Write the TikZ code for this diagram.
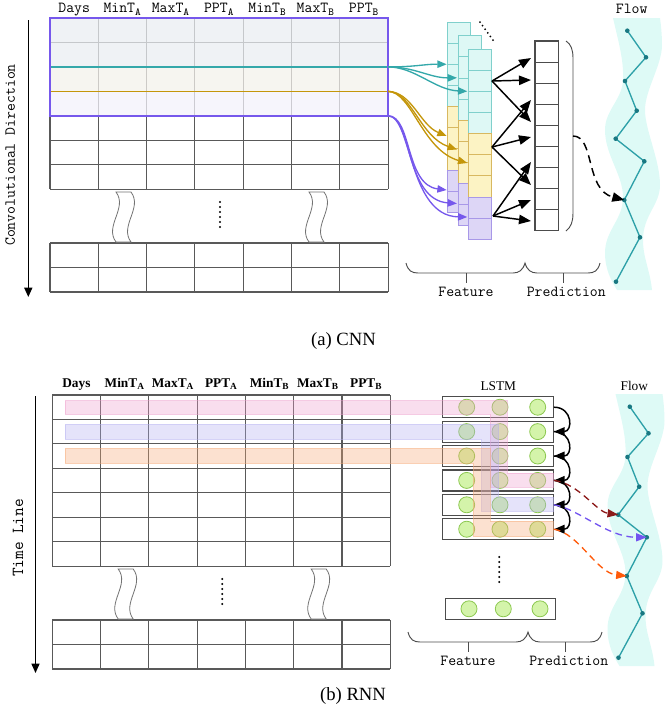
\documentclass[tikz,border=0pt]{standalone}
\usepackage{fontspec}
\setmainfont{Liberation Serif}
\usetikzlibrary{arrows.meta}

\definecolor{cnnteal}{RGB}{52,168,170}
\definecolor{cnngold}{RGB}{196,150,10}
\definecolor{cnnpurp}{RGB}{118,88,236}
\definecolor{winblue}{RGB}{234,238,242}
\definecolor{winbeige}{RGB}{243,241,235}
\definecolor{winlav}{RGB}{243,242,251}
\definecolor{mapteal}{RGB}{222,248,245}
\definecolor{mapgold}{RGB}{252,243,196}
\definecolor{mappurp}{RGB}{221,214,246}
\definecolor{edgeteal}{RGB}{128,208,204}
\definecolor{edgegold}{RGB}{216,184,96}
\definecolor{edgepurp}{RGB}{168,152,232}
\definecolor{bandcyan}{RGB}{222,250,246}
\definecolor{flowteal}{RGB}{45,160,168}
\definecolor{flowdot}{RGB}{25,120,130}
\definecolor{lstmgreen}{RGB}{212,244,170}
\definecolor{lstmedge}{RGB}{140,200,80}
\definecolor{barpink}{RGB}{238,160,205}
\definecolor{barlav}{RGB}{180,175,240}
\definecolor{barorange}{RGB}{246,170,120}
\definecolor{arrred}{RGB}{140,26,26}
\definecolor{arrpurp}{RGB}{115,85,240}
\definecolor{arrorange}{RGB}{255,90,10}

\tikzset{every picture/.style={line width=0.75pt}}
\tikzset{
  cell/.style={draw=black!65, line width=0.8pt},
  breaksym/.style={draw=black!55, fill=white, line width=0.6pt},
  mono/.style={font=\ttfamily\fontsize{11.5}{13}\selectfont, inner sep=0.75pt},
  rom/.style={font=\fontsize{10}{12}\selectfont, inner sep=0.75pt},
  headrom/.style={font=\bfseries\fontsize{10}{12}\selectfont, inner sep=0.75pt},
  captext/.style={font=\fontsize{14}{16}\selectfont, inner sep=0.75pt},
  fan/.style={line width=1pt, -{Triangle[length=7pt,width=5.5pt]}},
  featarrow/.style={draw=black, line width=1.1pt, -{Triangle[length=9pt,width=7pt]}},
  predcell/.style={draw=black!70, line width=0.8pt},
  bracket/.style={draw=black!70, line width=0.7pt},
  flowdash/.style={draw=black, line width=1.1pt, dash pattern=on 6pt off 4pt, -{Triangle[length=9pt,width=7pt]}},
  lstmbox/.style={draw=black!70, line width=0.9pt, minimum width=83pt, minimum height=15.75pt, inner sep=0pt},
  lstmcell/.style={circle, draw=lstmedge, fill=lstmgreen, minimum size=12pt, inner sep=0pt, line width=0.6pt},
  recur/.style={draw=black, line width=1.1pt, -{Triangle[length=8pt,width=6.5pt]}},
  rnndash/.style={line width=1pt, dash pattern=on 5pt off 3.5pt, -{Triangle[length=8pt,width=6pt]}},
  winbar/.style={line width=0.6pt, fill opacity=0.35, draw opacity=0.5},
  downarrow/.style={draw=black, line width=1.1pt, -{Triangle[length=7pt,width=6pt]}}
}

% table with the break between the two blocks
\newcommand{\datatable}{%
  \foreach \i in {0,...,7} \draw[cell] ({50+48.3*\i},18) -- ({50+48.3*\i},189.2);
  \foreach \j in {0,...,7} \draw[cell] (50,{18+24.45*\j}) -- (388.1,{18+24.45*\j});
  \foreach \i in {0,...,7} \draw[cell] ({50+48.3*\i},243) -- ({50+48.3*\i},292);
  \foreach \j in {0,1,2} \draw[cell] (50,{243+24.5*\j}) -- (388.1,{243+24.5*\j});
  \draw[breaksym] (116,192) .. controls (128,208) and (104,226) .. (116,242) -- (131,242) .. controls (119,226) and (143,208) .. (131,192) -- cycle;
  \draw[breaksym] (309,192) .. controls (321,208) and (297,226) .. (309,242) -- (324,242) .. controls (312,226) and (336,208) .. (324,192) -- cycle;
  \foreach \k in {0,...,5} \fill (220,{202+5*\k}) circle[radius=1.1];
}

% wavy band with the flow series, #1 = prefix of the point names
\newcommand{\flowband}[1]{%
  \fill[bandcyan] (613,18) .. controls (618,40) and (624,60) .. (623,80) .. controls (622,100) and (605,110) .. (605,130) .. controls (605,155) and (623,175) .. (623,197) .. controls (623,220) and (605,230) .. (605,253) .. controls (605,270) and (612,282) .. (617,290) -- (652,290) .. controls (650,270) and (643,258) .. (643,240) .. controls (643,215) and (660,205) .. (660,185) .. controls (660,160) and (645,130) .. (645,110) .. controls (645,90) and (662,65) .. (662,45) .. controls (662,35) and (661,25) .. (660,18) -- cycle;
  \foreach \px/\py [count=\n] in {627.3/30.7,646/57.3,625/81,636.7/110.7,615.7/138.7,644.3/161.3,624.3/200,640/237.3,616/281.7}
    \coordinate (#1\n) at (\px,\py);
  \draw[flowteal, line width=1pt] (#11) \foreach \n in {2,...,9} { -- (#1\n) };
  \foreach \n in {1,...,9} \fill[flowdot] (#1\n) circle[radius=2.3];
}

\begin{document}
\begin{tikzpicture}[x=0.75pt,y=0.75pt,yscale=-1,xscale=1]
\useasboundingbox (0,0) rectangle (665,708);

%%%%%%%%%%%%%%%% (a) CNN
% Table
\datatable
% Window rows
\fill[winblue, opacity=0.75] (50,18) rectangle (388.1,66.9);
\fill[winbeige, opacity=0.75] (50,66.9) rectangle (388.1,91.35);
\fill[winlav, opacity=0.75] (50,91.35) rectangle (388.1,115.8);
\coordinate (tealsrc) at (388.1,66.9);
\coordinate (goldsrc) at (388.1,91.35);
\coordinate (purpsrc) at (388.1,115.8);
\draw[cnnteal, line width=1pt] (50,66.9) -- (tealsrc);
\draw[cnngold, line width=1.2pt] (50,91.35) -- (goldsrc);
\draw[cnnpurp, line width=1.3pt] (50,18) rectangle (purpsrc);

% Header
\foreach \lab [count=\n from 0] in {Days,MinT\textsubscript{A},MaxT\textsubscript{A},PPT\textsubscript{A},MinT\textsubscript{B},MaxT\textsubscript{B},PPT\textsubscript{B}}
  \node[mono, anchor=base] (cnnhd\n) at ({74.2+48.3*\n},12.7) {\lab};

% Direction arrow
\coordinate (cdtop) at (28.3,20);
\coordinate (cdbot) at (28.3,297);
\draw[downarrow] (cdtop) -- (cdbot);
\node[mono, anchor=base, rotate=90] (cdlabel) at (15,155) {Convolutional Direction};

% Feature maps
\foreach \k in {0,1,2}{
  \pgfmathsetmacro{\mx}{447.7+10.3*\k}
  \pgfmathsetmacro{\my}{22.3+13.5*\k}
  \draw[draw=edgeteal, fill=mapteal] (\mx,\my) rectangle ++(23,84.4);
  \draw[draw=edgegold, fill=mapgold] (\mx,{\my+84.4}) rectangle ++(23,63.3);
  \draw[draw=edgepurp, fill=mappurp] (\mx,{\my+147.7}) rectangle ++(23,42.2);
  \foreach \c in {1,2,3} \draw[edgeteal] (\mx,{\my+21.1*\c}) -- ++(23,0);
  \foreach \c in {5,6} \draw[edgegold] (\mx,{\my+21.1*\c}) -- ++(23,0);
  \draw[edgepurp] (\mx,{\my+21.1*8}) -- ++(23,0);
  \coordinate (mapt\k) at ({\mx-1},{\my+42});
  \coordinate (mapg\k) at ({\mx-1},{\my+113.7});
  \coordinate (mapp\k) at ({\mx-1},{\my+167.7});
}
\foreach \k in {0,...,5} \fill ({480+2.6*\k},{22+3.6*\k}) circle[radius=1];

% Window to feature maps
\draw[fan, cnnteal] (tealsrc) .. controls (415,67) and (425,64) .. (mapt0);
\draw[fan, cnnteal] (tealsrc) .. controls (415,67) and (430,78) .. (mapt1);
\draw[fan, cnnteal] (tealsrc) .. controls (415,67) and (435,90) .. (mapt2);
\draw[fan, cnngold] (goldsrc) .. controls (412,92) and (420,125) .. (mapg0);
\draw[fan, cnngold] (goldsrc) .. controls (412,92) and (420,137) .. (mapg1);
\draw[fan, cnngold] (goldsrc) .. controls (412,92) and (422,150) .. (mapg2);
\draw[fan, cnnpurp] (purpsrc) .. controls (412,116) and (405,185) .. (mapp0);
\draw[fan, cnnpurp] (purpsrc) .. controls (412,116) and (405,200) .. (mapp1);
\draw[fan, cnnpurp] (purpsrc) .. controls (412,116) and (408,216) .. (mapp2);

% Prediction column
\foreach \c in {0,...,8} \draw[predcell] (535,{41+21.1*\c}) rectangle ++(23.3,21.1);
\coordinate (fo1) at (492,81);
\coordinate (fo2) at (492,147);
\coordinate (fo3) at (493,216);
\foreach \py [count=\n] in {58,80,122,100,137,185,162,200,221}
  \coordinate (pt\n) at (531,\py);
\foreach \a/\b in {fo1/pt1,fo1/pt2,fo1/pt3,fo2/pt4,fo2/pt5,fo2/pt6,fo3/pt7,fo3/pt8,fo3/pt9}
  \draw[featarrow] (\a) -- (\b);
\draw[bracket] (566,41) .. controls (571,44) and (573,50) .. (573,58) -- (573,213) .. controls (573,222) and (571,227) .. (566,231);
\coordinate (brk) at (573,136);

% Flow
\flowband{fa}
\node[mono, anchor=base] (flowa) at (631.7,13.3) {Flow};
\draw[flowdash] (brk) .. controls (595,136) and (585,190) .. (fa7);

% Braces
\draw[bracket] (406,263) .. controls (408,271) and (412,273) .. (418,273) -- (513,273) .. controls (519,273) and (523,270) .. (525,263) .. controls (527,270) and (531,273) .. (537,273) -- (588,273) .. controls (594,273) and (598,271) .. (600,263);
\draw[bracket] (466,273) -- (466,283);
\draw[bracket] (563,273) -- (563,283);
\node[mono, anchor=base] (feata) at (466,296.7) {Feature};
\node[mono, anchor=base] (preda) at (566.3,296.7) {Prediction};

\node[captext] (capa) at (343.5,341.5) {(a) CNN};

%%%%%%%%%%%%%%%% (b) RNN
% Table
\begin{scope}[shift={(2.2,377)}]
\datatable
\end{scope}

% Header
\foreach \lab [count=\n from 0] in {Days,MinT\textsubscript{A},MaxT\textsubscript{A},PPT\textsubscript{A},MinT\textsubscript{B},MaxT\textsubscript{B},PPT\textsubscript{B}}
  \node[headrom, anchor=base] (rnnhd\n) at ({76.4+48.3*\n},387.7) {\lab};

% Time arrow
\coordinate (tltop) at (35.5,396);
\coordinate (tlbot) at (35.5,673);
\draw[downarrow] (tltop) -- (tlbot);
\node[mono, font=\ttfamily\fontsize{12.6}{14}\selectfont, anchor=base, rotate=90] (tllabel) at (23,538) {Time Line};

% LSTM units
\node[rom, anchor=base] (lstmlab) at (498.3,390) {LSTM};
\foreach \i in {1,...,6}{
  \node[lstmbox] (lstm\i) at (498,{407.2+24.4*(\i-1)}) {};
  \node[lstmcell] (lc\i-1) at (466.7,{407.2+24.4*(\i-1)}) {};
  \node[lstmcell] (lc\i-2) at (500,{407.2+24.4*(\i-1)}) {};
  \node[lstmcell] (lc\i-3) at (537.7,{407.2+24.4*(\i-1)}) {};
}
\node[lstmbox] (lstm7) at (500.5,608.8) {};
\node[lstmcell] (lc7-1) at (469,608.8) {};
\node[lstmcell] (lc7-2) at (503.3,608.8) {};
\node[lstmcell] (lc7-3) at (540,608.8) {};
\foreach \k in {0,...,5} \fill (499.3,{557+5*\k}) circle[radius=1.1];

% Input windows
\draw[winbar, draw=barpink, fill=barpink] (65,400.7) -- (507,400.7) -- (507,473) -- (553,473) -- (553,487) -- (490,487) -- (490,414.3) -- (65,414.3) -- cycle;
\draw[winbar, draw=barlav, fill=barlav] (65,424.3) -- (498.3,424.3) -- (498.3,497.3) -- (553,497.3) -- (553,511) -- (481.7,511) -- (481.7,439.3) -- (65,439.3) -- cycle;
\draw[winbar, draw=barorange, fill=barorange] (65,448.3) -- (490,448.3) -- (490,521) -- (553,521) -- (553,536.7) -- (473.3,536.7) -- (473.3,463.3) -- (65,463.3) -- cycle;

% Recurrence
\foreach \i [evaluate=\i as \j using int(\i+1)] in {1,...,5}
  \draw[recur] (lstm\i.east) to[out=0,in=0,looseness=2] (lstm\j.east);

% Flow
\begin{scope}[shift={(2.5,376)}]
\flowband{fb}
\end{scope}
\node[rom, anchor=base] (flowb) at (634.3,390) {Flow};
\draw[rnndash, draw=arrred] (lstm4.east) .. controls +(25,3) and +(-22,-3) .. (fb5);
\draw[rnndash, draw=arrpurp] (lstm5.east) .. controls +(25,4) and +(-40,0) .. (fb6);
\draw[rnndash, draw=arrorange] (lstm6.east) .. controls +(25,4) and +(-30,-3) .. (fb7);

% Braces
\draw[bracket] (408,632) .. controls (410,640) and (414,642) .. (420,642) -- (516,642) .. controls (522,642) and (526,639) .. (528,632) .. controls (530,639) and (534,642) .. (540,642) -- (590,642) .. controls (596,642) and (600,640) .. (602,632);
\draw[bracket] (468,642) -- (468,652);
\draw[bracket] (565,642) -- (565,652);
\node[mono, anchor=base] (featb) at (468,665) {Feature};
\node[mono, anchor=base] (predb) at (568.8,665) {Prediction};

\node[captext] (capb) at (353,696) {(b) RNN};

\end{tikzpicture}
\end{document}
